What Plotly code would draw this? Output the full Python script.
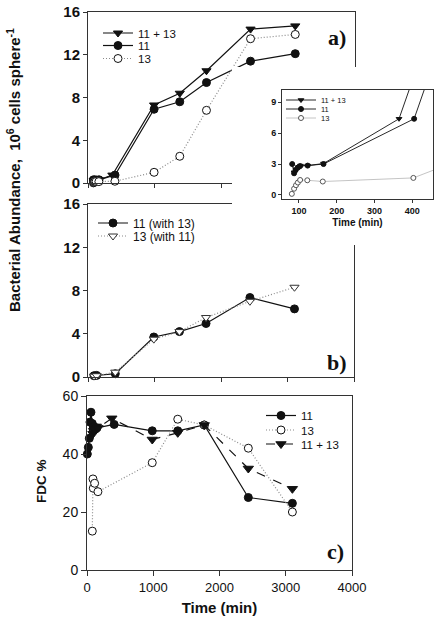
import plotly.graph_objects as go

# ---------------- data ----------------
# Panel a: bacterial abundance (10^6 cells sphere^-1) vs time (min)
t_a_1113 = [87, 92, 98, 104, 123, 165, 365, 990, 1375, 1775, 2435, 3105]
a_1113 = [0.22, 0.25, 0.27, 0.285, 0.285, 0.305, 0.74, 7.3, 8.4, 10.5, 14.4, 14.7]
t_a_11 = [82, 87, 91, 97, 103, 123, 165, 405, 990, 1375, 1775, 2435, 3105]
a_11 = [0.30, 0.21, 0.24, 0.265, 0.28, 0.285, 0.30, 0.74, 6.9, 7.6, 9.4, 11.4, 12.1]
t_a_13 = [81, 87, 92, 97, 103, 122, 163, 403, 990, 1375, 1775, 2435, 3105]
a_13 = [0.01, 0.06, 0.094, 0.12, 0.145, 0.142, 0.13, 0.165, 1.0, 2.5, 6.8, 13.5, 13.9]

# Panel b: abundance in co-culture
t_b = [90, 130, 410, 990, 1375, 1775, 2435, 3105]
b_11_with_13 = [0.12, 0.15, 0.3, 3.7, 4.2, 4.95, 7.35, 6.3]
b_13_with_11 = [0.08, 0.12, 0.45, 3.5, 4.2, 5.5, 7.0, 8.3]

# Panel c: FDC %
t_c_11 = [5, 20, 35, 45, 60, 80, 100, 120, 150, 410, 985, 1370, 1770, 2435, 3100]
c_11 = [40, 42.3, 45.4, 51, 54.4, 50.5, 49.5, 48.5, 49, 50.2, 48, 48, 50, 25, 23]
t_c_13 = [80, 90, 95, 115, 165, 985, 1370, 1770, 2435, 3100]
c_13 = [13.4, 31.4, 28.2, 29.9, 27, 37, 52, 50, 42, 20]
t_c_1113 = [90, 100, 115, 140, 165, 375, 985, 1370, 1770, 2435, 3100]
c_1113 = [47, 48, 48.5, 49.5, 49, 52.3, 45, 47.3, 50, 35, 28]

# inset shows panel a in units of 10^5 cells sphere^-1
INSET_SCALE = 10

W, H = 438, 623
BLACK = '#111111'
GRAY = '#8a8a8a'
LGRAY = '#bdbdbd'
AX = '#333333'
FONT = 'Arial, Liberation Sans, sans-serif'
DOT = '1px,2px'


def px(x):
    return x / W


def py(y):
    return 1 - y / H


fig = go.Figure()
legends = {}


def add(x, y, xa, ya, name, symbol, fill, dash, lcolor, msize, leg_pos, fsize=12,
        lw=1.2, mlc=BLACK, clip=False):
    lid = 'legend' if not legends else 'legend%d' % (len(legends) + 1)
    legends[lid] = dict(x=px(leg_pos[0]), y=py(leg_pos[1]), xanchor='left',
                        yanchor='middle', bgcolor='rgba(0,0,0,0)',
                        font=dict(size=fsize, color=BLACK), itemwidth=30,
                        borderwidth=0)
    fig.add_trace(go.Scatter(
        x=x, y=y, xaxis=xa, yaxis=ya, name=name, mode='lines+markers',
        line=dict(color=lcolor, width=lw, dash=dash),
        marker=dict(symbol=symbol, size=msize, color=fill,
                    line=dict(color=mlc, width=1)),
        legend=lid, showlegend=True, cliponaxis=clip,
        hoverinfo='skip'))


# panel a
add(t_a_1113, a_1113, 'x', 'y', '11 + 13', 'triangle-down', BLACK, 'solid', BLACK, 8, (98, 33), fsize=11.5)
add(t_a_11, a_11, 'x', 'y', '11', 'circle', BLACK, 'solid', BLACK, 8, (98, 45.5), fsize=11.5)
add(t_a_13, a_13, 'x', 'y', '13', 'circle', 'white', DOT, GRAY, 8, (98, 58.5), fsize=11.5)

# panel b
add(t_b, b_11_with_13, 'x2', 'y2', '11 (with 13)', 'circle', BLACK, 'solid', BLACK, 8, (93, 223))
add(t_b, b_13_with_11, 'x2', 'y2', '13 (with 11)', 'triangle-down', 'white', DOT, GRAY, 8, (93, 236),
    mlc='#333333')

# panel c
add(t_c_11, c_11, 'x3', 'y3', '11', 'circle', BLACK, 'solid', BLACK, 8, (261, 415.5), fsize=11.5)
add(t_c_13, c_13, 'x3', 'y3', '13', 'circle', 'white', DOT, GRAY, 8, (261, 430), fsize=11.5)
add(t_c_1113, c_1113, 'x3', 'y3', '11 + 13', 'triangle-down', BLACK, 'dash', BLACK, 9, (261, 444), fsize=11.5)

# white box behind the inset (covers part of panels a and b)
fig.add_trace(go.Scatter(x=[], y=[], xaxis='x4', yaxis='y4', showlegend=False,
                         hoverinfo='skip'))

# inset
add(t_a_1113, [v * INSET_SCALE for v in a_1113], 'x5', 'y5', '11 + 13', 'triangle-down',
    BLACK, 'solid', BLACK, 5, (281, 100), fsize=7.5, lw=0.9, clip=True)
add(t_a_11, [v * INSET_SCALE for v in a_11], 'x5', 'y5', '11', 'circle',
    BLACK, 'solid', BLACK, 5, (281, 109), fsize=7.5, lw=0.9, clip=True)
add(t_a_13, [v * INSET_SCALE for v in a_13], 'x5', 'y5', '13', 'circle',
    'white', 'solid', LGRAY, 5, (281, 118), fsize=7.5, lw=0.9, mlc='#555555', clip=True)

frame = dict(showline=True, mirror=True, linecolor=AX, linewidth=1,
             showgrid=False, zeroline=False, ticks='outside', tickcolor=AX,
             automargin=False)

fig.update_layout(
    template='none',
    width=W, height=H, margin=dict(l=0, r=0, t=0, b=0, pad=0, autoexpand=False),
    paper_bgcolor='white', plot_bgcolor='white',
    font=dict(family=FONT, color=BLACK),
    xaxis=dict(domain=[px(88), px(355)], range=[0, 4000], dtick=1000,
               showticklabels=False, ticklen=4, anchor='y', **frame),
    yaxis=dict(domain=[py(183), py(12)], range=[0, 16], dtick=4, ticklen=4,
               tickfont=dict(size=15, weight='bold'), anchor='x', **frame),
    xaxis2=dict(domain=[px(88), px(354)], range=[0, 4000], dtick=1000,
                showticklabels=False, ticklen=4, anchor='y2', **frame),
    yaxis2=dict(domain=[py(377), py(204)], range=[0, 16], dtick=4, ticklen=4,
                tickfont=dict(size=15, weight='bold'), anchor='x2', **frame),
    xaxis3=dict(domain=[px(87), px(352)], range=[0, 4000], dtick=1000, ticklen=5,
                tickfont=dict(size=13), anchor='y3',
                title=dict(text='Time (min)', font=dict(size=15, weight='bold'),
                           standoff=8), **frame),
    yaxis3=dict(domain=[py(570), py(396)], range=[0, 60], dtick=20, ticklen=5,
                tickfont=dict(size=14), anchor='x3', **frame),
    xaxis4=dict(domain=[px(232), 1.0], range=[0, 1], visible=False, anchor='y4'),
    yaxis4=dict(domain=[py(245), py(67)], range=[0, 1], visible=False, anchor='x4'),
    xaxis5=dict(domain=[px(282), px(433)], range=[55, 455],
                tickvals=[100, 200, 300, 400], ticklen=3,
                tickfont=dict(size=9, weight='bold'), anchor='y5',
                title=dict(text='Time (min)', font=dict(size=10, weight='bold'),
                           standoff=4), **frame),
    yaxis5=dict(domain=[py(199), py(90)], range=[-0.4, 10.2],
                tickvals=[0, 3, 6, 9], ticklen=3,
                tickfont=dict(size=9, weight='bold'), anchor='x5', **frame),
    **legends,
)

ann = [
    dict(text='Bacterial Abundance,  10<sup>6</sup> cells sphere<sup>-1</sup>',
         x=px(14), y=py(170), textangle=-90, font=dict(size=15, weight='bold')),
    dict(text='FDC %', x=px(41), y=py(481), textangle=-90,
         font=dict(size=13.5, weight='bold')),
    dict(text='a)', x=px(337), y=py(37),
         font=dict(size=22, family='Liberation Serif, Times New Roman, serif', weight='bold')),
    dict(text='b)', x=px(337), y=py(362),
         font=dict(size=22, family='Liberation Serif, Times New Roman, serif', weight='bold')),
    dict(text='c)', x=px(335), y=py(551),
         font=dict(size=22, family='Liberation Serif, Times New Roman, serif', weight='bold')),
]
for a in ann:
    a.update(xref='paper', yref='paper', showarrow=False, xanchor='center', yanchor='middle')
fig.update_layout(annotations=ann)

fig.write_html('out.html',
               config={'displayModeBar': False, 'staticPlot': True},
               post_script="document.body.style.margin='0px';"
                           "document.body.style.overflow='hidden';")
